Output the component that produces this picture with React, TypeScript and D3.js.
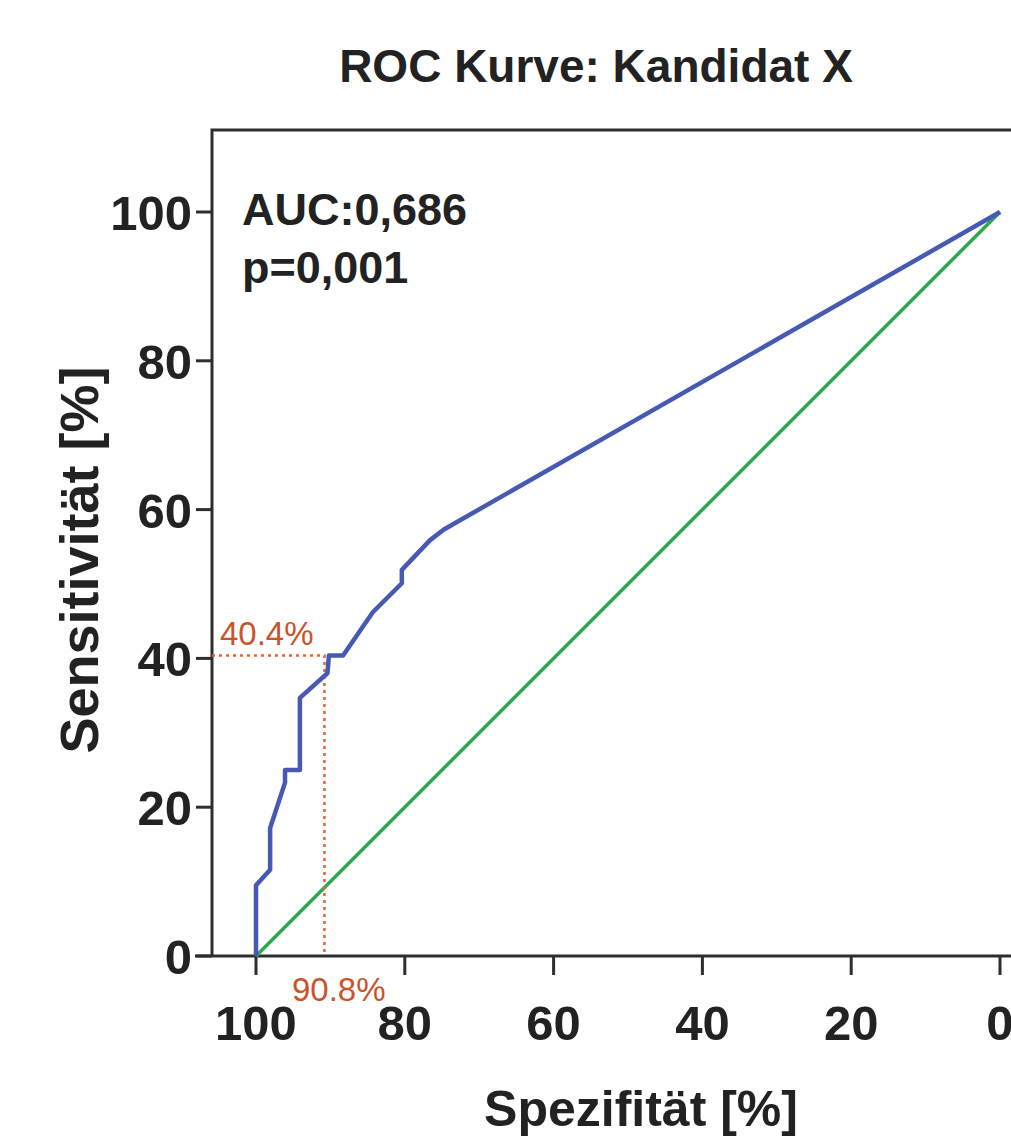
import { useEffect, useRef } from "react";
import * as d3 from "d3";

// ROC curve points: [specificity %, sensitivity %]
const rocSpecificity = [100, 100, 98.1, 98.1, 96.1, 96.1, 94.1, 94.1, 90.4, 90.2, 88.3, 84.3, 80.4, 80.4, 76.6, 74.8, 0];
const rocSensitivity = [0, 9.5, 11.6, 17.2, 23.3, 25, 25, 34.7, 38, 40.4, 40.4, 46.2, 50.1, 51.9, 55.9, 57.3, 100];
const refSpecificity = [100, 0];
const refSensitivity = [0, 100];
const xTicks = [100, 80, 60, 40, 20, 0];
const yTicks = [0, 20, 40, 60, 80, 100];
const cutoff = { spec: 90.8, sens: 40.4 };

const W = 1011;
const H = 1142;

export default function App() {
  const svgRef = useRef<SVGSVGElement>(null);

  useEffect(() => {
    const svg = d3.select(svgRef.current);
    svg.selectAll("*").remove();

    const x = d3.scaleLinear().domain([100, 0]).range([256, 1000]);
    const y = d3.scaleLinear().domain([0, 100]).range([956, 212]);
    const axisColor = "#2e2e2e";
    const font = "'Liberation Sans', Arial, sans-serif";

    svg
      .append("text")
      .attr("x", 596)
      .attr("y", 82)
      .attr("text-anchor", "middle")
      .attr("font-family", font)
      .attr("font-weight", "bold")
      .attr("font-size", 46)
      .attr("fill", "#222")
      .text("ROC Kurve: Kandidat X");

    // frame: left axis + top edge
    svg
      .append("path")
      .attr("d", `M${W + 5},130 H212 V956`)
      .attr("fill", "none")
      .attr("stroke", axisColor)
      .attr("stroke-width", 3);

    // bottom axis
    svg
      .append("line")
      .attr("x1", 195)
      .attr("x2", W + 5)
      .attr("y1", 956)
      .attr("y2", 956)
      .attr("stroke", axisColor)
      .attr("stroke-width", 3);

    // y ticks
    const yg = svg.append("g");
    yg.selectAll("line")
      .data(yTicks)
      .enter()
      .append("line")
      .attr("x1", 196)
      .attr("x2", 212)
      .attr("y1", (d) => y(d))
      .attr("y2", (d) => y(d))
      .attr("stroke", axisColor)
      .attr("stroke-width", 3);
    yg.selectAll("text")
      .data(yTicks)
      .enter()
      .append("text")
      .attr("x", 192)
      .attr("y", (d) => y(d) + 18)
      .attr("text-anchor", "end")
      .attr("font-family", font)
      .attr("font-weight", "bold")
      .attr("font-size", 49)
      .attr("fill", "#222")
      .text((d) => d);

    // x ticks
    const xg = svg.append("g");
    xg.selectAll("line")
      .data(xTicks)
      .enter()
      .append("line")
      .attr("x1", (d) => x(d))
      .attr("x2", (d) => x(d))
      .attr("y1", 956)
      .attr("y2", 975)
      .attr("stroke", axisColor)
      .attr("stroke-width", 3);
    xg.selectAll("text")
      .data(xTicks)
      .enter()
      .append("text")
      .attr("x", (d) => x(d))
      .attr("y", 1040)
      .attr("text-anchor", "middle")
      .attr("font-family", font)
      .attr("font-weight", "bold")
      .attr("font-size", 49)
      .attr("fill", "#222")
      .text((d) => d);

    // axis titles
    svg
      .append("text")
      .attr("x", 641)
      .attr("y", 1126)
      .attr("text-anchor", "middle")
      .attr("font-family", font)
      .attr("font-weight", "bold")
      .attr("font-size", 50)
      .attr("fill", "#222")
      .text("Spezifität [%]");
    svg
      .append("text")
      .attr("transform", "translate(98,560) rotate(-90)")
      .attr("text-anchor", "middle")
      .attr("font-family", font)
      .attr("font-weight", "bold")
      .attr("font-size", 54)
      .attr("fill", "#222")
      .text("Sensitivität [%]");

    // AUC annotation
    svg
      .append("text")
      .attr("x", 242)
      .attr("y", 225)
      .attr("font-family", font)
      .attr("font-weight", "bold")
      .attr("font-size", 45)
      .attr("fill", "#222")
      .text("AUC:0,686");
    svg
      .append("text")
      .attr("x", 242)
      .attr("y", 283)
      .attr("font-family", font)
      .attr("font-weight", "bold")
      .attr("font-size", 45)
      .attr("fill", "#222")
      .text("p=0,001");

    const line = d3
      .line<number>()
      .x((_, i) => x(rocSpecificity[i]))
      .y((_, i) => y(rocSensitivity[i]));
    const refLine = d3
      .line<number>()
      .x((_, i) => x(refSpecificity[i]))
      .y((_, i) => y(refSensitivity[i]));

    svg
      .append("path")
      .attr("d", refLine(refSpecificity))
      .attr("fill", "none")
      .attr("stroke", "#2fa84f")
      .attr("stroke-width", 3.5);

    // cutoff guides
    const orange = "#e8642c";
    svg
      .append("path")
      .attr("d", `M212,${y(cutoff.sens)} H${x(cutoff.spec)} V956`)
      .attr("fill", "none")
      .attr("stroke", orange)
      .attr("stroke-width", 2.5)
      .attr("stroke-dasharray", "3,4");

    svg
      .append("path")
      .attr("d", line(rocSpecificity))
      .attr("fill", "none")
      .attr("stroke", "#4659b5")
      .attr("stroke-width", 4.5)
      .attr("stroke-linejoin", "round");

    svg
      .append("text")
      .attr("x", 220)
      .attr("y", 645)
      .attr("font-family", font)
      .attr("font-size", 33)
      .attr("fill", "#c9542b")
      .text(`${cutoff.sens}%`);
    svg
      .append("text")
      .attr("x", 292)
      .attr("y", 1001)
      .attr("font-family", font)
      .attr("font-size", 33)
      .attr("fill", "#c9542b")
      .text(`${cutoff.spec}%`);
  }, []);

  return (
    <svg
      ref={svgRef}
      width={W}
      height={H}
      style={{ position: "absolute", left: 0, top: 0, background: "#fff" }}
    />
  );
}
